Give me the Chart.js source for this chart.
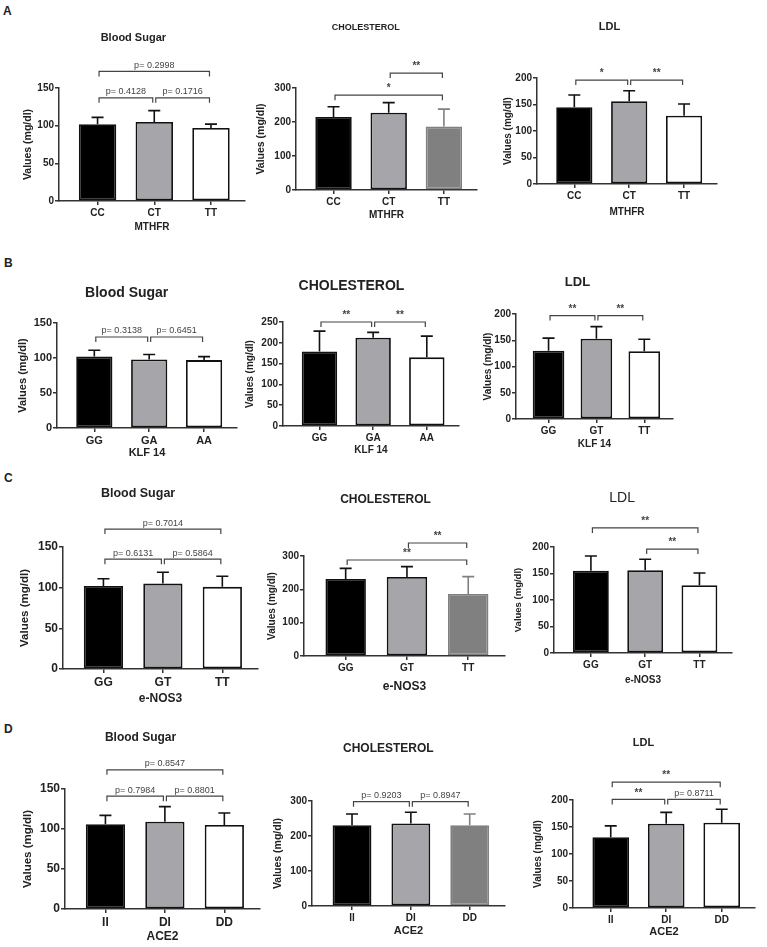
<!DOCTYPE html>
<html>
<head>
<meta charset="utf-8">
<script src="https://cdn.jsdelivr.net/npm/chart.js@4.4.1/dist/chart.umd.min.js"></script>
<style>
  body { margin: 0; background: #fff; }
  #figure { position: relative; width: 767px; height: 947px; overflow: hidden; }
  #figure canvas { position: absolute; }
  .letter { position: absolute; font: bold 12px 'Liberation Sans', Arial, sans-serif; color: #222; }
</style>
</head>
<body>
<div id="figure">
  <div class="letter" style="left:3px;top:4px">A</div>
  <div class="letter" style="left:4px;top:256px">B</div>
  <div class="letter" style="left:4px;top:471px">C</div>
  <div class="letter" style="left:4px;top:722px">D</div>
</div>
<script>
'use strict';

// ************************** DATA ****************************************** //
const mthfrGenotypes = ['CC', 'CT', 'TT'];
const klfGenotypes = ['GG', 'GA', 'AA'];
const klfLdlGenotypes = ['GG', 'GT', 'TT'];
const nosGenotypes = ['GG', 'GT', 'TT'];
const aceGenotypes = ['II', 'DI', 'DD'];

const sugarTicks = [0, 50, 100, 150];
const chol300Ticks = [0, 100, 200, 300];
const chol250Ticks = [0, 50, 100, 150, 200, 250];
const ldlTicks = [0, 50, 100, 150, 200];

// mean values and SD (upper error bar), mg/dl
const mthfrSugar = [102, 105, 97];
const mthfrSugarSd = [9, 15, 5];
const mthfrChol = [215, 227, 187];
const mthfrCholSd = [30, 30, 51];
const mthfrLdl = [145, 156, 129];
const mthfrLdlSd = [23, 20, 22];

const klfSugar = [102, 98, 97];
const klfSugarSd = [9, 7, 5];
const klfChol = [179, 212, 165];
const klfCholSd = [49, 13, 51];
const klfLdl = [130, 153, 129];
const klfLdlSd = [24, 23, 23];

const nosSugar = [102, 105, 101];
const nosSugarSd = [9, 14, 13];
const nosChol = [231, 237, 186];
const nosCholSd = [32, 31, 52];
const nosLdl = [155, 156, 128];
const nosLdlSd = [28, 21, 23];

const aceSugar = [106, 109, 105];
const aceSugarSd = [11, 19, 15];
const aceChol = [231, 236, 231];
const aceCholSd = [32, 32, 32];
const aceLdl = [131, 156, 158];
const aceLdlSd = [21, 21, 25];

// comparison brackets: [from, to, level, label]
const mthfrSugarSig = [[0, 1, 137, 'p= 0.4128'], [1, 2, 137, 'p= 0.1716'], [0, 2, 172, 'p= 0.2998']];
const mthfrCholSig = [[1, 2, 344, '**'], [0, 2, 279, '*']];
const mthfrLdlSig = [[0, 1, 196, '*'], [1, 2, 196, '**']];
const klfSugarSig = [[0, 1, 130, 'p= 0.3138'], [1, 2, 130, 'p= 0.6451']];
const klfCholSig = [[0, 1, 250, '**'], [1, 2, 250, '**']];
const klfLdlSig = [[0, 1, 197, '**'], [1, 2, 197, '**']];
const nosSugarSig = [[0, 1, 135, 'p= 0.6131'], [1, 2, 135, 'p= 0.5864'], [0, 2, 172, 'p= 0.7014']];
const nosCholSig = [[1, 2, 339, '**'], [0, 2, 288, '**']];
const nosLdlSig = [[0, 2, 236, '**'], [1, 2, 196, '**']];
const aceSugarSig = [[0, 1, 141, 'p= 0.7984'], [1, 2, 141, 'p= 0.8801'], [0, 2, 174, 'p= 0.8547']];
const aceCholSig = [[0, 1, 298, 'p= 0.9203'], [1, 2, 298, 'p= 0.8947']];
const aceLdlSig = [[0, 1, 201, '**'], [1, 2, 201, 'p= 0.8711'], [0, 2, 233, '**']];

// ************************** STYLES / LAYOUT ******************************* //
const FONT = "'Liberation Sans', Arial, sans-serif";
Chart.defaults.font.family = FONT;
Chart.defaults.color = '#222';

const fills = {
  white: ['#000000', '#a6a6aa', '#ffffff'],
  dark: ['#000000', '#a6a6aa', '#808080']
};
const borders = {
  white: ['#111111', '#111111', '#111111'],
  dark: ['#111111', '#111111', '#808080']
};

// L/R/T/B = plot area, tx/ty = title centre
const panels = [
  { title: 'Blood Sugar', axis: 'MTHFR', labels: mthfrGenotypes, means: mthfrSugar, sd: mthfrSugarSd, ticks: sugarTicks, sig: mthfrSugarSig, third: 'white',
    box: { L: 59, R: 245, T: 88, B: 201, tx: 153, ty: 38, ts: 11, bold: true, tick: 10, xOff: 26, yDist: 31, xts: 10, yts: 10.5 } },
  { title: 'CHOLESTEROL', axis: 'MTHFR', labels: mthfrGenotypes, means: mthfrChol, sd: mthfrCholSd, ticks: chol300Ticks, sig: mthfrCholSig, third: 'dark',
    box: { L: 296, R: 477, T: 88, B: 190, tx: 380, ty: 27, ts: 9, bold: true, tick: 10, xOff: 25, yDist: 35, xts: 10, yts: 10.5 } },
  { title: 'LDL', axis: 'MTHFR', labels: mthfrGenotypes, means: mthfrLdl, sd: mthfrLdlSd, ticks: ldlTicks, sig: mthfrLdlSig, third: 'white',
    box: { L: 537, R: 717, T: 78, B: 184, tx: 640, ty: 27, ts: 11, bold: true, tick: 10, xOff: 28, yDist: 29, xts: 10, yts: 10 } },

  { title: 'Blood Sugar', axis: 'KLF 14', labels: klfGenotypes, means: klfSugar, sd: klfSugarSd, ticks: sugarTicks, sig: klfSugarSig, third: 'white',
    box: { L: 57, R: 237, T: 323, B: 428, tx: 157, ty: 293, ts: 14, bold: true, tick: 11, xOff: 26, yDist: 34, xts: 11, yts: 11 } },
  { title: 'CHOLESTEROL', axis: 'KLF 14', labels: klfGenotypes, means: klfChol, sd: klfCholSd, ticks: chol250Ticks, sig: klfCholSig, third: 'white',
    box: { L: 283, R: 459, T: 322, B: 426, tx: 382, ty: 286, ts: 14, bold: true, tick: 10, xOff: 24, yDist: 33, xts: 10, yts: 10 } },
  { title: 'LDL', axis: 'KLF 14', labels: klfLdlGenotypes, means: klfLdl, sd: klfLdlSd, ticks: ldlTicks, sig: klfLdlSig, third: 'white',
    box: { L: 516, R: 673, T: 314, B: 419, tx: 603, ty: 283, ts: 13, bold: true, tick: 10, xOff: 25, yDist: 28, xts: 10, yts: 10 } },

  { title: 'Blood Sugar', axis: 'e-NOS3', labels: nosGenotypes, means: nosSugar, sd: nosSugarSd, ticks: sugarTicks, sig: nosSugarSig, third: 'white',
    box: { L: 63, R: 258, T: 547, B: 669, tx: 160, ty: 493, ts: 12.5, bold: true, tick: 12, xOff: 31, yDist: 38, xts: 12, yts: 11.5 } },
  { title: 'CHOLESTEROL', axis: 'e-NOS3', labels: nosGenotypes, means: nosChol, sd: nosCholSd, ticks: chol300Ticks, sig: nosCholSig, third: 'dark',
    box: { L: 304, R: 505, T: 556, B: 656, tx: 408, ty: 499, ts: 12, bold: true, tick: 10, xOff: 32, yDist: 32, xts: 12, yts: 10 } },
  { title: 'LDL', axis: 'e-NOS3', labels: nosGenotypes, means: nosLdl, sd: nosLdlSd, ticks: ldlTicks, sig: nosLdlSig, third: 'white',
    box: { L: 554, R: 732, T: 547, B: 653, tx: 648, ty: 498, ts: 14, bold: false, tick: 10, xOff: 27, yDist: 36, xts: 10, yts: 9.5 } },

  { title: 'Blood Sugar', axis: 'ACE2', labels: aceGenotypes, means: aceSugar, sd: aceSugarSd, ticks: sugarTicks, sig: aceSugarSig, third: 'white',
    box: { L: 65, R: 260, T: 789, B: 909, tx: 163, ty: 737, ts: 12, bold: true, tick: 12, xOff: 29, yDist: 37, xts: 12, yts: 11.5 } },
  { title: 'CHOLESTEROL', axis: 'ACE2', labels: aceGenotypes, means: aceChol, sd: aceCholSd, ticks: chol300Ticks, sig: aceCholSig, third: 'dark',
    box: { L: 312, R: 505, T: 801, B: 906, tx: 417, ty: 748, ts: 12, bold: true, tick: 10, xOff: 26, yDist: 34, xts: 11, yts: 10.5 } },
  { title: 'LDL', axis: 'ACE2', labels: aceGenotypes, means: aceLdl, sd: aceLdlSd, ticks: ldlTicks, sig: aceLdlSig, third: 'white',
    box: { L: 573, R: 755, T: 800, B: 908, tx: 665, ty: 743, ts: 11, bold: true, tick: 10, xOff: 25, yDist: 35, xts: 11, yts: 10 } }
];

// x range around category indices 0..2 (GraphPad leaves a wider gap before the first bar)
const X_MIN = -0.68;
const X_MAX = 2.6;

// ************************** PLUGIN **************************************** //
// error bars (upper SD) and significance brackets
function makeMarks(panel) {
  return {
    id: 'marks',
    afterDraw(chart) {
      const ctx = chart.ctx;
      const yScale = chart.scales.y;
      const meta = chart.getDatasetMeta(0);
      const errColors = borders[panel.third];
      ctx.save();
      meta.data.forEach((bar, i) => {
        const base = yScale.getPixelForValue(panel.means[i]);
        const top = yScale.getPixelForValue(panel.means[i] + panel.sd[i]);
        ctx.strokeStyle = errColors[i];
        ctx.lineWidth = 1.6;
        ctx.beginPath();
        ctx.moveTo(bar.x, base);
        ctx.lineTo(bar.x, top);
        ctx.moveTo(bar.x - 6, top);
        ctx.lineTo(bar.x + 6, top);
        ctx.stroke();
      });

      panel.sig.forEach(([from, to, level, label]) => {
        const x1 = meta.data[from].x + 1.5;
        const x2 = meta.data[to].x - 1.5;
        const yy = yScale.getPixelForValue(level);
        ctx.strokeStyle = '#444';
        ctx.lineWidth = 1.2;
        ctx.beginPath();
        ctx.moveTo(x1, yy + 5);
        ctx.lineTo(x1, yy);
        ctx.lineTo(x2, yy);
        ctx.lineTo(x2, yy + 5);
        ctx.stroke();
        ctx.fillStyle = '#444';
        ctx.textAlign = 'center';
        ctx.textBaseline = 'bottom';
        ctx.font = label.startsWith('p') ? '9px ' + FONT : 'bold 10px ' + FONT;
        ctx.fillText(label, (x1 + x2) / 2, yy - 1.5);
      });
      ctx.restore();
    }
  };
}

// ************************** CHARTS **************************************** //
function renderPanel(panel) {
  const b = panel.box;
  const yWidth = b.yDist + b.yts * 0.6;
  const xHeight = b.xOff + 6;
  const areaLeft = b.L - yWidth;
  const half = Math.max(b.tx - areaLeft, b.R + 4 - b.tx);
  const left = Math.round(b.tx - half);
  const right = Math.round(b.tx + half);
  const top = Math.round(b.ty - b.ts * 0.6 - 2);
  const titleBottomPad = b.T - top - b.ts * 1.2 - 2;

  const canvas = document.createElement('canvas');
  canvas.width = right - left;
  canvas.height = b.B + xHeight - top;
  canvas.style.left = left + 'px';
  canvas.style.top = top + 'px';
  document.getElementById('figure').appendChild(canvas);

  const axisColor = '#333';
  const tickFont = { size: b.tick, weight: 'bold' };
  const points = panel.means.map((v, i) => ({ x: i, y: v }));

  new Chart(canvas, {
    type: 'bar',
    data: {
      datasets: [{
        data: points,
        backgroundColor: fills[panel.third],
        borderColor: borders[panel.third],
        borderWidth: 1.8,
        borderSkipped: false,
        barPercentage: 0.66,
        categoryPercentage: 1
      }]
    },
    options: {
      responsive: false,
      animation: false,
      devicePixelRatio: 1,
      layout: {
        padding: { left: areaLeft - left, right: right - b.R, top: 0, bottom: 0 }
      },
      plugins: {
        legend: { display: false },
        tooltip: { enabled: false },
        title: {
          display: true,
          text: panel.title,
          color: '#222',
          font: { size: b.ts, weight: b.bold ? 'bold' : 'normal', lineHeight: 1.2 },
          padding: { top: 2, bottom: titleBottomPad }
        }
      },
      scales: {
        x: {
          type: 'linear',
          min: X_MIN,
          max: X_MAX,
          offset: false,
          afterBuildTicks: (scale) => { scale.ticks = panel.labels.map((l, i) => ({ value: i })); },
          grid: { drawOnChartArea: false, tickLength: 4, offset: false, color: axisColor, lineWidth: 1.5 },
          border: { display: true, color: axisColor, width: 1.5 },
          ticks: { font: tickFont, color: '#222', padding: 2, callback: (v) => panel.labels[v] },
          title: { display: true, text: panel.axis, color: '#222', font: { size: b.xts, weight: 'bold', lineHeight: 1.2 }, padding: 0 },
          afterFit: (scale) => { scale.height = xHeight; }
        },
        y: {
          min: 0,
          max: panel.ticks[panel.ticks.length - 1],
          afterBuildTicks: (scale) => { scale.ticks = panel.ticks.map(v => ({ value: v })); },
          grid: { drawOnChartArea: false, tickLength: 4, color: axisColor, lineWidth: 1.5 },
          border: { display: true, color: axisColor, width: 1.5 },
          ticks: { font: tickFont, color: '#222', padding: 1 },
          title: { display: true, text: 'Values (mg/dl)', color: '#222', font: { size: b.yts, weight: 'bold', lineHeight: 1.2 }, padding: 0 },
          afterFit: (scale) => { scale.width = yWidth; }
        }
      }
    },
    plugins: [makeMarks(panel)]
  });
}

panels.forEach(renderPanel);
</script>
</body>
</html>
